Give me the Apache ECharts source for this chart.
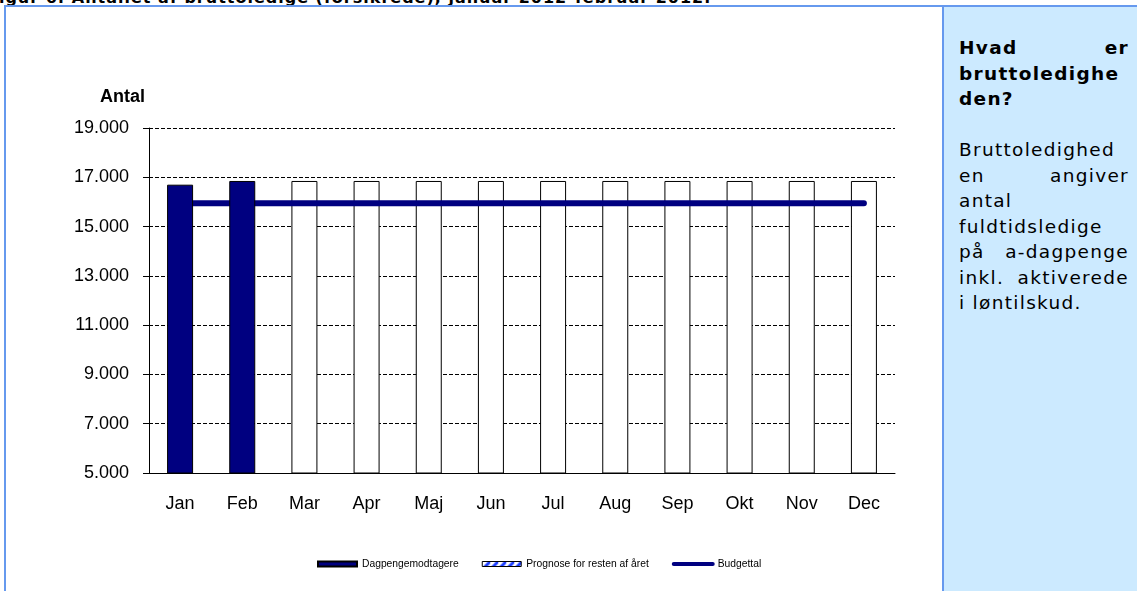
<!DOCTYPE html>
<html>
<head>
<meta charset="utf-8">
<script src="https://cdn.jsdelivr.net/npm/echarts@6/dist/echarts.min.js"></script>
<style>
  body { margin: 0; width: 1137px; height: 591px; overflow: hidden; background: #fff; position: relative; }
  .Caption {
    position: absolute; left: -13px; top: -12px; white-space: nowrap;
    font: bold 16px 'DejaVu Sans', sans-serif; letter-spacing: 1px; color: #000;
  }
  .FrameTop { position: absolute; left: 4px; top: 5px; width: 1133px; height: 2px; background: #6699ee; }
  .FrameLeft { position: absolute; left: 4px; top: 5px; width: 2px; height: 586px; background: #6699ee; }
  .SidePanel {
    position: absolute; left: 942px; top: 7px; width: 195px; height: 584px;
    background: #cceaff; border-left: 2px solid #6699ee;
  }
  .SideText {
    position: absolute; left: 15px; top: 28px; width: 170px;
    font: 18.5px 'DejaVu Sans', sans-serif; line-height: 25.5px; letter-spacing: 1.3px; color: #000;
  }
  .SideText .b { font-weight: bold; }
  .SideText .j { text-align: justify; text-align-last: justify; }
  #BruttoChart { position: absolute; left: 0; top: 0; width: 942px; height: 591px; }
</style>
</head>
<body>
<div class="Caption">Figur 6: Antallet af bruttoledige (forsikrede), januar 2012-februar 2012.</div>
<div id="BruttoChart"></div>
<div class="FrameTop"></div>
<div class="FrameLeft"></div>
<div class="SidePanel">
  <div class="SideText">
    <div class="b j">Hvad er</div>
    <div class="b">bruttoledighe</div>
    <div class="b">den?</div>
    <div>&nbsp;</div>
    <div>Bruttoledighed</div>
    <div class="j">en angiver</div>
    <div>antal</div>
    <div>fuldtidsledige</div>
    <div class="j">på a-dagpenge</div>
    <div class="j">inkl. aktiverede</div>
    <div>i løntilskud.</div>
  </div>
</div>
<script>
const categories = ['Jan', 'Feb', 'Mar', 'Apr', 'Maj', 'Jun', 'Jul', 'Aug', 'Sep', 'Okt', 'Nov', 'Dec']
const dagpengeData = [16700, 16850, null, null, null, null, null, null, null, null, null, null]
const prognoseData = [null, null, 16850, 16850, 16850, 16850, 16850, 16850, 16850, 16850, 16850, 16850]
const budgetData = [15950, 15950, 15950, 15950, 15950, 15950, 15950, 15950, 15950, 15950, 15950, 15950]

const fmtThousands = (v) => String(v).replace(/\B(?=(\d{3})+(?!\d))/g, '.')

// striped pattern for the prognose legend icon
const makeStripes = () => {
  const c = document.createElement('canvas')
  c.width = 8
  c.height = 8
  const ctx = c.getContext('2d')
  ctx.fillStyle = '#ffffff'
  ctx.fillRect(0, 0, 8, 8)
  ctx.strokeStyle = '#1a3cff'
  ctx.lineWidth = 3
  ctx.beginPath()
  ctx.moveTo(-2, 10); ctx.lineTo(10, -2)
  ctx.moveTo(6, 10); ctx.lineTo(14, 2)
  ctx.stroke()
  return c
}

const font = "'Liberation Sans', Arial, sans-serif"
const chart = echarts.init(document.getElementById('BruttoChart'))
chart.setOption({
  animation: false,
  grid: { left: 149, right: 47, top: 128, bottom: 118 },
  legend: {
    left: 317,
    top: 559,
    padding: 0,
    itemGap: 23,
    itemWidth: 39,
    itemHeight: 5,
    textStyle: { fontFamily: font, fontSize: 10.3, color: '#000' },
    data: [
      { name: 'Dagpengemodtagere', icon: 'rect' },
      { name: 'Prognose for resten af året', icon: 'rect',
        itemStyle: { color: { image: makeStripes(), repeat: 'repeat' }, borderColor: '#000', borderWidth: 1 } },
      { name: 'Budgettal', lineStyle: { width: 4 } }
    ]
  },
  xAxis: {
    type: 'category',
    data: categories,
    axisLine: { lineStyle: { color: '#000', width: 1 } },
    axisTick: { length: 5, lineStyle: { color: '#000' } },
    axisLabel: { color: '#000', fontFamily: font, fontSize: 18, margin: 22 }
  },
  yAxis: {
    type: 'value',
    min: 5000,
    max: 19000,
    interval: 2000,
    name: 'Antal',
    nameLocation: 'end',
    nameGap: 22,
    nameTextStyle: { color: '#000', fontFamily: font, fontSize: 18, fontWeight: 'bold', align: 'right', padding: [0, 4, 0, 0] },
    axisLine: { show: true, lineStyle: { color: '#000', width: 1 } },
    axisTick: { show: true, length: 6, lineStyle: { color: '#000' } },
    axisLabel: { color: '#000', fontFamily: font, fontSize: 18, margin: 20, formatter: fmtThousands },
    splitLine: { lineStyle: { color: '#000', type: [4, 2], width: 1 } }
  },
  series: [
    {
      name: 'Dagpengemodtagere',
      type: 'bar',
      data: dagpengeData,
      barWidth: 26,
      barGap: '-100%',
      z: 4,
      itemStyle: { color: '#000080', borderColor: '#000', borderWidth: 1 }
    },
    {
      name: 'Prognose for resten af året',
      type: 'bar',
      data: prognoseData,
      barWidth: 26,
      z: 2,
      itemStyle: { color: '#ffffff', borderColor: '#000', borderWidth: 1 }
    },
    {
      name: 'Budgettal',
      type: 'line',
      data: budgetData,
      symbol: 'none',
      z: 3,
      lineStyle: { color: '#000080', width: 6, cap: 'round' },
      itemStyle: { color: '#000080' }
    }
  ]
})
</script>
</body>
</html>
